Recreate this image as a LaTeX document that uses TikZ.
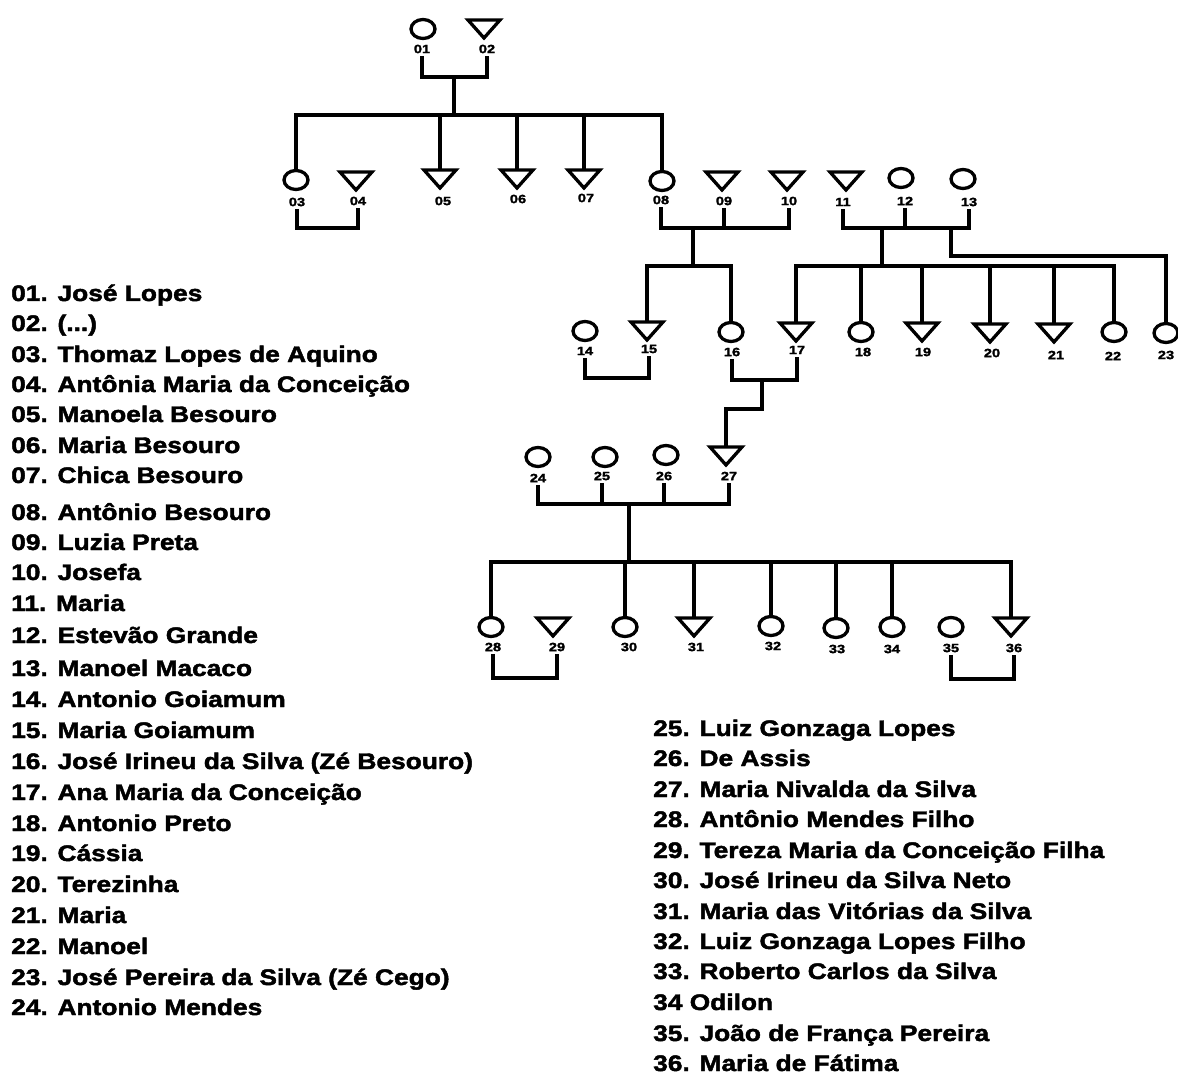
\documentclass[tikz,border=0pt]{standalone}
\usepackage{fontspec}
\setmainfont{Liberation Sans}
\newfontfamily\listfont{Liberation Sans}[FakeStretch=1.17, BoldFeatures={FakeBold=2}]
\newfontfamily\numfont{Liberation Sans}[FakeStretch=1.22, BoldFeatures={FakeBold=2}]
\usetikzlibrary{shapes.geometric}

% A downward-pointing triangle whose anchors are those of a rectangle
\makeatletter
\newdimen\trihx
\newdimen\trihy
\pgfdeclareshape{downtriangle}{
  \inheritsavedanchors[from=rectangle]
  \inheritanchorborder[from=rectangle]
  \inheritanchor[from=rectangle]{center}
  \inheritanchor[from=rectangle]{north}
  \inheritanchor[from=rectangle]{south}
  \inheritanchor[from=rectangle]{east}
  \inheritanchor[from=rectangle]{west}
  \backgroundpath{
    \northeast \trihx=\pgf@x \trihy=\pgf@y
    \pgfpathmoveto{\pgfqpoint{-\trihx}{\trihy}}
    \pgfpathlineto{\pgfqpoint{\trihx}{\trihy}}
    \pgfpathlineto{\pgfqpoint{0pt}{-\trihy}}
    \pgfpathclose
  }
}
\makeatother

\tikzset{
  circ/.style={ellipse, draw, line width=3.3pt, minimum width=24pt, minimum height=19pt,
    inner sep=0pt, outer sep=0pt},
  tri/.style={downtriangle, draw, line width=3.3pt, line join=miter, minimum width=32pt,
    minimum height=18pt, inner sep=0pt, outer sep=0pt},
  num/.style={font=\numfont\bfseries\fontsize{12}{13}\selectfont, inner xsep=1pt, inner ysep=2.5pt},
  entry/.style={font=\listfont\bfseries\fontsize{22.5}{24}\selectfont, anchor=base west, inner sep=0pt},
  link/.style={line width=3.3pt}
}

\begin{document}
\begin{tikzpicture}[x=1pt, y=-1pt]
\useasboundingbox (0,0) rectangle (1178,1075);

% ---------- first generation ----------
\node[circ] (p01) at (423,29) {};
\node[tri]  (p02) at (484,29) {};
\node[num] (l01) at (422,49) {01};
\node[num] (l02) at (487,49) {02};

% ---------- second generation ----------
\node[circ] (p03) at (296,180) {};
\node[tri]  (p04) at (356,181) {};
\node[tri]  (p05) at (440,179) {};
\node[tri]  (p06) at (517,179) {};
\node[tri]  (p07) at (584,179) {};
\node[circ] (p08) at (662,181) {};
\node[tri]  (p09) at (722,181) {};
\node[tri]  (p10) at (787,181) {};
\node[tri]  (p11) at (846,181) {};
\node[circ] (p12) at (901,178) {};
\node[circ] (p13) at (963,179) {};
\node[num] (l03) at (297,202) {03};
\node[num] (l04) at (358,201) {04};
\node[num] (l05) at (443,201) {05};
\node[num] (l06) at (518,199) {06};
\node[num] (l07) at (586,198) {07};
\node[num] (l08) at (661,200) {08};
\node[num] (l09) at (724,201) {09};
\node[num] (l10) at (789,201) {10};
\node[num] (l11) at (843,202) {11};
\node[num] (l12) at (905,201) {12};
\node[num] (l13) at (969,202) {13};

% ---------- third generation ----------
\node[circ] (p14) at (585,331) {};
\node[tri]  (p15) at (647,331) {};
\node[circ] (p16) at (731,332) {};
\node[tri]  (p17) at (796,332) {};
\node[circ] (p18) at (861,332) {};
\node[tri]  (p19) at (922,332) {};
\node[tri]  (p20) at (990,333) {};
\node[tri]  (p21) at (1054,333) {};
\node[circ] (p22) at (1114,332) {};
\node[circ] (p23) at (1166,333) {};
\node[num] (l14) at (585,351) {14};
\node[num] (l15) at (649,349) {15};
\node[num] (l16) at (732,352) {16};
\node[num] (l17) at (797,350) {17};
\node[num] (l18) at (863,352) {18};
\node[num] (l19) at (923,352) {19};
\node[num] (l20) at (992,353) {20};
\node[num] (l21) at (1056,355) {21};
\node[num] (l22) at (1113,356) {22};
\node[num] (l23) at (1166,355) {23};

% ---------- fourth generation ----------
\node[circ] (p24) at (538,457) {};
\node[circ] (p25) at (605,457) {};
\node[circ] (p26) at (666,455) {};
\node[tri]  (p27) at (726,456) {};
\node[num] (l24) at (538,478) {24};
\node[num] (l25) at (602,476) {25};
\node[num] (l26) at (664,476) {26};
\node[num] (l27) at (729,476) {27};

% ---------- fifth generation ----------
\node[circ] (p28) at (491,627) {};
\node[tri]  (p29) at (553,627) {};
\node[circ] (p30) at (625,627) {};
\node[tri]  (p31) at (694,627) {};
\node[circ] (p32) at (771,626) {};
\node[circ] (p33) at (836,628) {};
\node[circ] (p34) at (892,627) {};
\node[circ] (p35) at (951,627) {};
\node[tri]  (p36) at (1011,627) {};
\node[num] (l28) at (493,647) {28};
\node[num] (l29) at (557,647) {29};
\node[num] (l30) at (629,647) {30};
\node[num] (l31) at (696,647) {31};
\node[num] (l32) at (773,646) {32};
\node[num] (l33) at (837,649) {33};
\node[num] (l34) at (892,649) {34};
\node[num] (l35) at (951,648) {35};
\node[num] (l36) at (1014,648) {36};

% ---------- junction points ----------
\coordinate (u1) at (454,77);
\coordinate (s1) at (454,115);
\coordinate (u2) at (327,228);
\coordinate (u3) at (693,228);
\coordinate (s3) at (693,266);
\coordinate (u4) at (882,228);
\coordinate (s4) at (882,266);
\coordinate (b23) at (951,228);
\coordinate (k23) at (951,256);
\coordinate (u5) at (617,378);
\coordinate (u6) at (762,380);
\coordinate (j6) at (762,409);
\coordinate (u7) at (629,504);
\coordinate (s7) at (629,562);
\coordinate (u8) at (523,678);
\coordinate (u9) at (982,679);

% ---------- connectors ----------
% 01 + 02 and their children
\draw[link] (l01.south) |- (u1) -| (l02.south);
\draw[link] (u1) -- (s1);
\draw[link] (p03.north) |- (s1) -| (p08.north);
\foreach \k in {05,06,07} \draw[link] (p\k.north |- s1) -- (p\k.north);

% 03 + 04
\draw[link] (l03.south) |- (u2) -| (l04.south);

% 08 + 09 + 10 and their children
\draw[link] (l08.south) |- (u3) -| (l10.south);
\draw[link] (l09.south) -- (l09.south |- u3);
\draw[link] (u3) -- (s3);
\draw[link] (p15.north) |- (s3) -| (p16.north);

% 11 + 12 + 13 and their children
\draw[link] (l11.south) |- (u4) -| (l13.south);
\draw[link] (l12.south) -- (l12.south |- u4);
\draw[link] (u4) -- (s4);
\draw[link] (p17.north) |- (s4) -| (p22.north);
\foreach \k in {18,19,20,21} \draw[link] (p\k.north |- s4) -- (p\k.north);
\draw[link] (b23) -- (k23) -| (p23.north);

% 14 + 15
\draw[link] (l14.south) |- (u5) -| (l15.south);

% 16 + 17 and their daughter 27
\draw[link] (l16.south) |- (u6) -| (l17.south);
\draw[link] (u6) -- (j6) -| (p27.north);

% 24 + 25 + 26 + 27 and their children
\draw[link] (l24.south) |- (u7) -| (l27.south);
\draw[link] (l25.south) -- (l25.south |- u7);
\draw[link] (l26.south) -- (l26.south |- u7);
\draw[link] (u7) -- (s7);
\draw[link] (p28.north) |- (s7) -| (p36.north);
\foreach \k in {30,31,32,33,34} \draw[link] (p\k.north |- s7) -- (p\k.north);

% 28 + 29, 35 + 36
\draw[link] (l28.south) |- (u8) -| (l29.south);
\draw[link] (l35.south) |- (u9) -| (l36.south);

% ---------- legend ----------
\node[entry] (n01) at (11,301) {01. José Lopes};
\node[entry] (n02) at (11,331) {02. (...)};
\node[entry] (n03) at (11,362) {03. Thomaz Lopes de Aquino};
\node[entry] (n04) at (11,392) {04. Antônia Maria da Conceição};
\node[entry] (n05) at (11,422) {05. Manoela Besouro};
\node[entry] (n06) at (11,453) {06. Maria Besouro};
\node[entry] (n07) at (11,483) {07. Chica Besouro};
\node[entry] (n08) at (11,520) {08. Antônio Besouro};
\node[entry] (n09) at (11,550) {09. Luzia Preta};
\node[entry] (n10) at (11,580) {10. Josefa};
\node[entry] (n11) at (11,611) {11. Maria};
\node[entry] (n12) at (11,643) {12. Estevão Grande};
\node[entry] (n13) at (11,676) {13. Manoel Macaco};
\node[entry] (n14) at (11,707) {14. Antonio Goiamum};
\node[entry] (n15) at (11,738) {15. Maria Goiamum};
\node[entry] (n16) at (11,769) {16. José Irineu da Silva (Zé Besouro)};
\node[entry] (n17) at (11,800) {17. Ana Maria da Conceição};
\node[entry] (n18) at (11,831) {18. Antonio Preto};
\node[entry] (n19) at (11,861) {19. Cássia};
\node[entry] (n20) at (11,892) {20. Terezinha};
\node[entry] (n21) at (11,923) {21. Maria};
\node[entry] (n22) at (11,954) {22. Manoel};
\node[entry] (n23) at (11,985) {23. José Pereira da Silva (Zé Cego)};
\node[entry] (n24) at (11,1015) {24. Antonio Mendes};

\node[entry] (n25) at (653,736) {25. Luiz Gonzaga Lopes};
\node[entry] (n26) at (653,766) {26. De Assis};
\node[entry] (n27) at (653,797) {27. Maria Nivalda da Silva};
\node[entry] (n28) at (653,827) {28. Antônio Mendes Filho};
\node[entry] (n29) at (653,858) {29. Tereza Maria da Conceição Filha};
\node[entry] (n30) at (653,888) {30. José Irineu da Silva Neto};
\node[entry] (n31) at (653,919) {31. Maria das Vitórias da Silva};
\node[entry] (n32) at (653,949) {32. Luiz Gonzaga Lopes Filho};
\node[entry] (n33) at (653,979) {33. Roberto Carlos da Silva};
\node[entry] (n34) at (653,1010) {34 Odilon};
\node[entry] (n35) at (653,1041) {35. João de França Pereira};
\node[entry] (n36) at (653,1071) {36. Maria de Fátima};
\end{tikzpicture}
\end{document}
